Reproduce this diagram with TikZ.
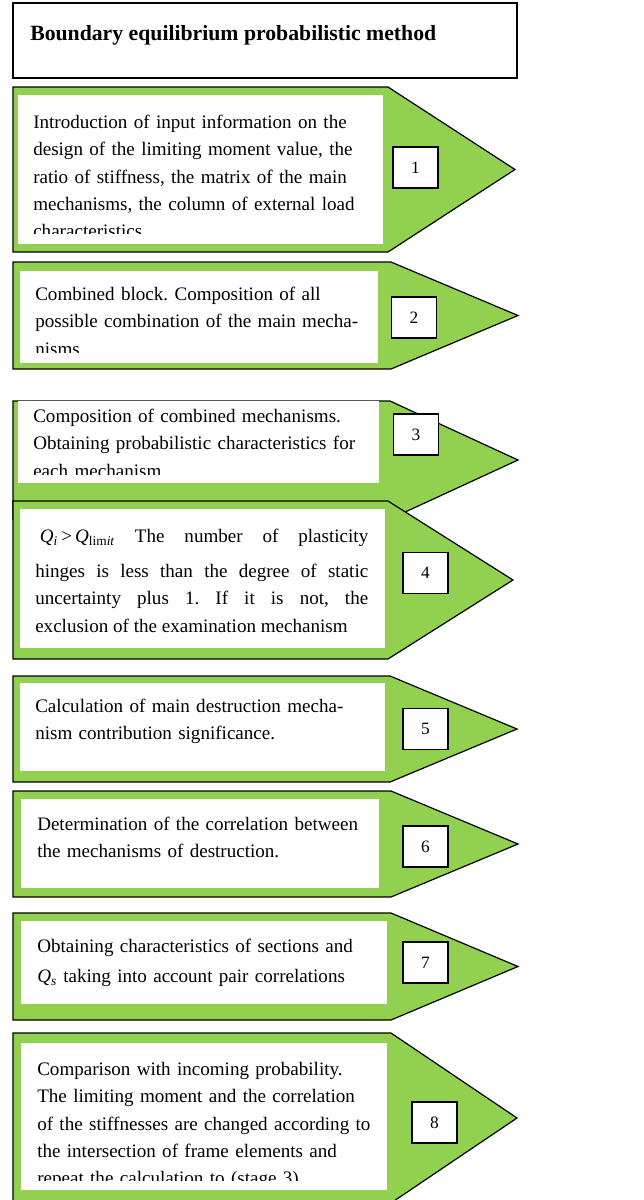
\documentclass[tikz,border=0pt]{standalone}
\usepackage{fontspec}
\setmainfont{Liberation Serif}
\definecolor{stagegreen}{RGB}{146,208,80}
\frenchspacing

\begin{document}
\begin{tikzpicture}[x=0.75pt, y=-0.75pt,
  stage/.style={draw=black, line width=0.9pt, fill=stagegreen, line join=miter},
  panel/.style={fill=white},
  numbox/.style={draw=black, line width=0.8pt, fill=white, minimum width=33.75pt,
    minimum height=30.75pt, inner sep=0pt, font=\fontsize{13}{15}\selectfont},
  steptext/.style={anchor=north west, inner sep=0pt, text width=275pt, align=left,
    font=\fontsize{14.3}{20.5}\selectfont}]
\useasboundingbox (0,0) rectangle (643,1200);

% Title box
\draw[line width=0.9pt, fill=white] (13,3) rectangle (517,78);
\node[anchor=base west, inner sep=0pt, font=\fontsize{16.3}{19}\selectfont\bfseries]
  (title) at (30,40) {Boundary equilibrium probabilistic method};

% Stage arrows: number/top/bottom/body end/tip/panel l/t/r/b/box centre
\foreach \i/\t/\b/\r/\p/\wl/\wt/\wr/\wb/\bx/\by in {
  1/87/252/388/515/18/95/383/244/415.5/167.5,
  2/262/369/391/518/20/271/378/363/414/317.5,
  3/401/519/390/518/18/401/379/483/416/434.5,
  4/501/659/388/513/20/509/385/648/425.5/573,
  5/676/782/390/517/20/683/385/771/425.5/729,
  6/791/897/391/518/21/799/379/888/425.5/846.5,
  7/913/1020/391/518/21/921/387/1004/425.5/962.5,
  8/1033/1203/391/517/21/1043/387/1190/434.5/1122.5} {
  \draw[stage] (13,\t) -- (\r,\t) -- (\p,{(\t+\b)/2}) -- (\r,\b) -- (13,\b) -- cycle;
  \fill[panel] (\wl,\wt) rectangle (\wr,\wb);
  \node[numbox] (n\i) at (\bx,\by) {\i};
}

% Stage texts
\begin{scope}
  \clip (0,0) rectangle (643,233);
  \node[steptext] (t1) at (33,109) {\strut Introduction of input information on the\\
    design of the limiting moment value, the\\
    ratio of stiffness, the matrix of the main\\
    mechanisms, the column of external load\\
    characteristics};
\end{scope}
\begin{scope}
  \clip (0,0) rectangle (643,352);
  \node[steptext] (t2) at (35,281) {\strut Combined block. Composition of all\\
    possible combination of the main mecha-\\
    nisms};
\end{scope}
\begin{scope}
  \clip (0,0) rectangle (643,474);
  \node[steptext] (t3) at (33,403) {\strut Composition of combined mechanisms.\\
    Obtaining probabilistic characteristics for\\
    each mechanism};
\end{scope}
\node[steptext, text width=249.75pt, align=justify] (t4) at (35,523)
  {\strut\hspace*{3.5pt}\textit{Q}\textsubscript{\textit{i}}\,>\,\textit{Q}\textsubscript{lim\textit{it}}
    The number of plasticity\vadjust{\vskip 5.8pt}\linebreak
    hinges is less than the degree of static\linebreak
    uncertainty plus 1. If it is not, the\linebreak
    exclusion of the examination mechanism};
\node[steptext] (t5) at (35,693) {\strut Calculation of main destruction mecha-\\
  nism contribution significance.};
\node[steptext] (t6) at (37,811) {\strut Determination of the correlation between\\
  the mechanisms of destruction.};
\node[steptext] (t7) at (37,933) {\strut Obtaining characteristics of sections and\\[2pt]
  \textit{Q}\textsubscript{\textit{s}} taking into account pair correlations};
\begin{scope}
  \clip (0,0) rectangle (643,1180);
  \node[steptext] (t8) at (37,1056) {\strut Comparison with incoming probability.\\
    The limiting moment and the correlation\\
    of the stiffnesses are changed according to\\
    the intersection of frame elements and\\
    repeat the calculation to (stage 3)};
\end{scope}

\end{tikzpicture}
\end{document}
